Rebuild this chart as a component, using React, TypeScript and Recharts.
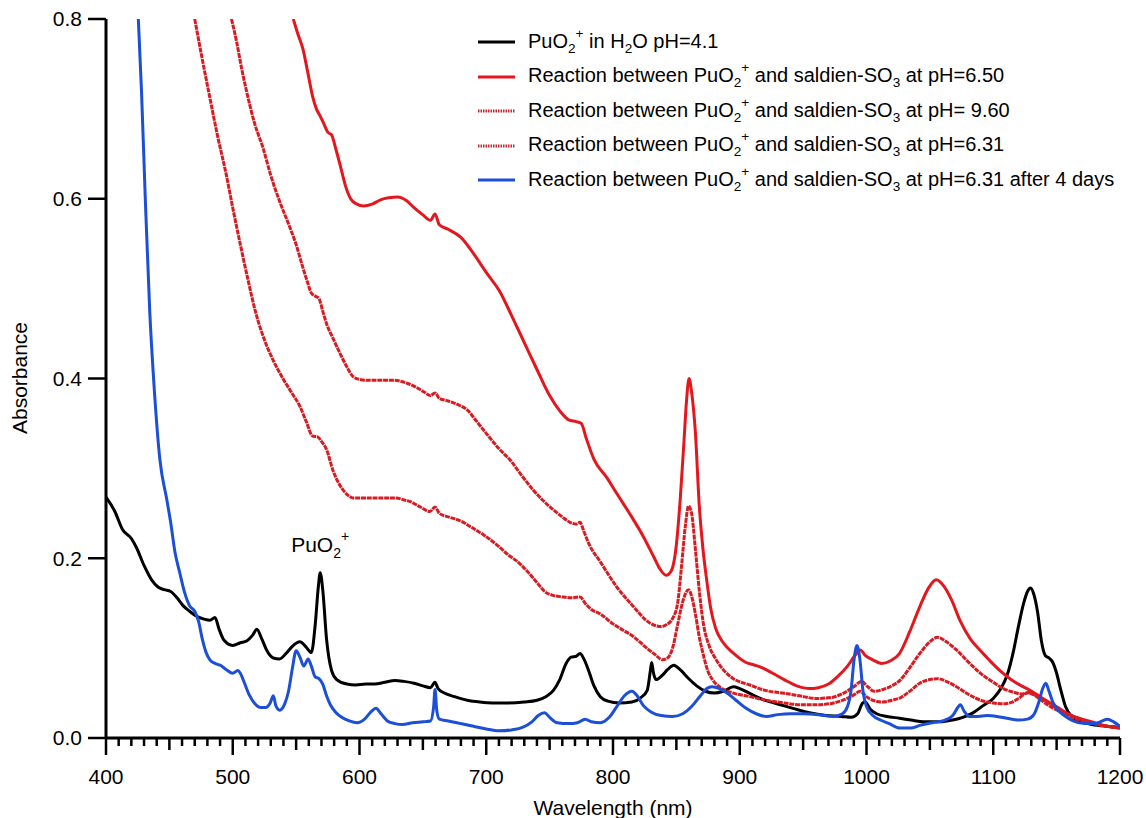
import React from 'react';
import { LineChart, Line, XAxis, YAxis, Legend, ReferenceDot } from 'recharts';

type Pt = [number, number];

// Wavelength (nm) / absorbance pairs for each spectrum
const puo2Water: Pt[] = [
  [400, 0.268], [407, 0.252], [413, 0.232], [420, 0.222], [424, 0.212], [430, 0.192], [436, 0.176],
  [441, 0.168], [446, 0.165], [451, 0.163], [456, 0.156], [461, 0.147], [466, 0.141], [472, 0.135],
  [478, 0.132], [482, 0.131], [486, 0.134], [489, 0.122], [493, 0.109], [500, 0.103], [506, 0.106],
  [511, 0.108], [516, 0.115], [519, 0.121], [523, 0.11], [527, 0.097], [532, 0.089], [537, 0.088],
  [542, 0.094], [547, 0.102], [553, 0.107], [558, 0.101], [562, 0.095], [565, 0.125], [567.5, 0.168],
  [569, 0.184], [571, 0.165], [574, 0.11], [578, 0.075], [582, 0.065], [590, 0.06], [597, 0.059],
  [605, 0.06], [612, 0.06], [620, 0.062], [628, 0.064], [635, 0.063], [643, 0.061], [650, 0.058],
  [656, 0.056], [659.5, 0.062], [662, 0.055], [667, 0.05], [675, 0.046], [685, 0.042], [695, 0.04],
  [705, 0.039], [717, 0.039], [730, 0.04], [740, 0.042], [747, 0.046], [753, 0.053], [758, 0.065],
  [763, 0.083], [767, 0.09], [771, 0.091], [774, 0.094], [777, 0.088], [781, 0.074], [785, 0.058],
  [790, 0.046], [796, 0.041], [805, 0.039], [815, 0.04], [822, 0.045], [827, 0.053], [829.5, 0.075],
  [830.5, 0.084], [832, 0.072], [834, 0.065], [839, 0.07], [843, 0.076], [848, 0.081], [853, 0.076],
  [859, 0.067], [866, 0.058], [873, 0.052], [880, 0.05], [887, 0.052], [895, 0.057], [900, 0.055],
  [906, 0.051], [913, 0.046], [922, 0.041], [932, 0.037], [942, 0.033], [955, 0.028], [968, 0.025],
  [980, 0.024], [988, 0.023], [993, 0.027], [997, 0.039], [999, 0.04], [1003, 0.032], [1008, 0.027],
  [1016, 0.024], [1026, 0.022], [1035, 0.02], [1045, 0.018], [1058, 0.018], [1068, 0.02], [1076, 0.023],
  [1084, 0.028], [1092, 0.036], [1100, 0.044], [1106, 0.055], [1111, 0.07], [1116, 0.097], [1120, 0.125],
  [1124, 0.15], [1127, 0.163], [1129.5, 0.167], [1132, 0.16], [1135, 0.14], [1138, 0.108], [1141, 0.092],
  [1144, 0.089], [1147, 0.084], [1150, 0.072], [1153, 0.055], [1157, 0.035], [1162, 0.024], [1168, 0.019],
  [1178, 0.015], [1190, 0.013], [1200, 0.012],
];

const saldienPh650: Pt[] = [
  [547.8, 0.8], [551, 0.785], [555.5, 0.766], [559, 0.742], [563, 0.714], [566, 0.7], [569, 0.692],
  [572, 0.683], [575, 0.674], [578, 0.671], [581, 0.657], [585, 0.636], [589, 0.614], [593, 0.6],
  [598, 0.594], [603, 0.592], [610, 0.594], [617, 0.599], [623, 0.601], [630, 0.602], [637, 0.598],
  [643, 0.59], [650, 0.582], [656, 0.576], [659.6, 0.583], [663, 0.571], [670, 0.566], [680, 0.557],
  [690, 0.539], [700, 0.518], [711, 0.496], [720, 0.47], [730, 0.44], [740, 0.41], [750, 0.381],
  [758, 0.364], [765, 0.354], [771, 0.352], [775, 0.35], [779, 0.333], [785, 0.31], [795, 0.29],
  [803, 0.272], [813, 0.25], [824, 0.224], [832, 0.202], [837, 0.188], [842, 0.181], [846, 0.186],
  [850, 0.215], [853, 0.265], [856, 0.33], [858, 0.375], [860, 0.4], [862, 0.385], [865, 0.34],
  [868, 0.26], [871, 0.21], [874, 0.175], [877, 0.145], [881, 0.122], [886, 0.108], [890, 0.101],
  [897, 0.092], [905, 0.084], [912, 0.081], [918, 0.078], [926, 0.072], [935, 0.065], [945, 0.058],
  [955, 0.055], [962, 0.056], [970, 0.06], [977, 0.068], [985, 0.08], [991, 0.092], [995, 0.098],
  [999, 0.092], [1005, 0.087], [1012, 0.083], [1019, 0.086], [1026, 0.094], [1034, 0.118], [1042, 0.146],
  [1049, 0.167], [1055, 0.176], [1061, 0.169], [1067, 0.154], [1074, 0.13], [1082, 0.11], [1090, 0.097],
  [1098, 0.085], [1106, 0.074], [1114, 0.065], [1121, 0.059], [1129, 0.053], [1137, 0.046], [1145, 0.039],
  [1152, 0.033], [1160, 0.026], [1170, 0.021], [1180, 0.017], [1190, 0.013], [1200, 0.011],
];

const saldienPh960: Pt[] = [
  [499, 0.8], [503, 0.775], [507, 0.745], [511, 0.719], [517, 0.685], [524, 0.656], [530, 0.626],
  [537, 0.597], [544, 0.572], [550, 0.549], [555, 0.525], [559, 0.507], [562, 0.495], [566, 0.491],
  [568, 0.489], [571, 0.475], [574, 0.461], [579, 0.445], [584.6, 0.428], [590, 0.413], [595, 0.402],
  [600, 0.399], [606, 0.398], [615, 0.398], [627, 0.398], [637, 0.395], [645, 0.39], [651, 0.385],
  [656, 0.381], [659.6, 0.384], [663, 0.378], [670, 0.375], [679, 0.37], [685, 0.365], [692, 0.353],
  [700, 0.339], [710, 0.322], [719, 0.309], [728, 0.292], [737, 0.276], [745, 0.264], [752, 0.255],
  [760, 0.246], [766, 0.24], [771, 0.238], [774, 0.24], [777, 0.23], [781, 0.216], [790, 0.196],
  [803, 0.168], [815, 0.148], [829, 0.128], [838, 0.124], [842, 0.126], [847, 0.133], [851, 0.15],
  [854, 0.19], [857, 0.235], [859.6, 0.258], [862, 0.25], [865, 0.21], [868, 0.165], [871, 0.13],
  [876, 0.102], [881, 0.088], [887, 0.076], [895, 0.066], [908, 0.059], [920, 0.053], [934, 0.05],
  [947, 0.047], [960, 0.044], [972, 0.045], [982, 0.05], [990, 0.057], [996, 0.063], [1001, 0.057],
  [1006, 0.052], [1013, 0.054], [1020, 0.058], [1027, 0.065], [1035, 0.08], [1042, 0.094], [1050, 0.107],
  [1056, 0.112], [1063, 0.107], [1071, 0.098], [1080, 0.085], [1090, 0.072], [1100, 0.062], [1108, 0.055],
  [1116, 0.051], [1122, 0.049], [1129, 0.051], [1134, 0.047], [1140, 0.042], [1148, 0.035], [1156, 0.029],
  [1165, 0.023], [1174, 0.018], [1186, 0.014], [1200, 0.011],
];

const saldienPh631: Pt[] = [
  [470, 0.8], [476, 0.755], [482, 0.712], [488, 0.67], [495, 0.626], [500, 0.59], [506, 0.549],
  [512, 0.51], [518, 0.474], [525, 0.443], [532, 0.42], [540, 0.399], [547, 0.383], [553, 0.369],
  [558, 0.352], [563, 0.336], [567, 0.335], [570, 0.33], [574, 0.321], [579, 0.298], [583, 0.285],
  [587, 0.276], [591, 0.27], [595, 0.267], [603, 0.267], [611, 0.267], [620, 0.267], [629, 0.267],
  [635, 0.265], [640, 0.263], [648, 0.257], [655.6, 0.252], [659.6, 0.257], [663, 0.25], [670, 0.246],
  [679, 0.242], [690, 0.233], [700, 0.224], [710, 0.213], [718, 0.203], [724, 0.197], [732, 0.186],
  [740, 0.173], [747, 0.162], [752, 0.159], [760, 0.157], [767, 0.156], [774, 0.157], [778, 0.15],
  [783, 0.143], [790, 0.138], [800, 0.127], [808, 0.12], [816, 0.113], [825, 0.102], [833, 0.093],
  [839, 0.087], [843, 0.089], [847, 0.1], [851, 0.126], [854, 0.146], [857, 0.16], [859.6, 0.165],
  [862, 0.158], [865, 0.138], [868, 0.113], [871, 0.094], [875, 0.074], [879, 0.064], [886, 0.055],
  [895, 0.05], [908, 0.046], [921, 0.042], [935, 0.039], [948, 0.037], [962, 0.037], [974, 0.039],
  [983, 0.043], [990, 0.048], [995, 0.052], [1000, 0.046], [1005, 0.042], [1013, 0.04], [1020, 0.042],
  [1027, 0.045], [1035, 0.053], [1042, 0.061], [1050, 0.065], [1056, 0.066], [1063, 0.063], [1071, 0.057],
  [1080, 0.049], [1090, 0.042], [1100, 0.039], [1108, 0.038], [1115, 0.04], [1120, 0.044], [1127, 0.05],
  [1132, 0.048], [1137, 0.043], [1145, 0.035], [1155, 0.028], [1164, 0.022], [1174, 0.018], [1186, 0.014],
  [1200, 0.011],
];

const saldienPh631Aged: Pt[] = [
  [425.5, 0.8], [428, 0.72], [431, 0.6], [434.5, 0.475], [438, 0.39], [442.5, 0.31], [448, 0.265],
  [451, 0.24], [454.5, 0.206], [458, 0.185], [462, 0.162], [466, 0.147], [470, 0.141], [473, 0.13],
  [476, 0.11], [479, 0.095], [482, 0.087], [486, 0.083], [490, 0.081], [495, 0.076], [500, 0.072],
  [504, 0.075], [506, 0.072], [509, 0.062], [513, 0.048], [517, 0.039], [522, 0.034], [526, 0.034],
  [529.5, 0.039], [532, 0.047], [534, 0.036], [537, 0.031], [541, 0.038], [544, 0.052], [547, 0.077],
  [550, 0.097], [553, 0.09], [556, 0.08], [559.5, 0.088], [562, 0.08], [565, 0.068], [568, 0.066],
  [571, 0.06], [574, 0.047], [577, 0.037], [581, 0.029], [586, 0.023], [592, 0.019], [598, 0.017],
  [604, 0.021], [609, 0.029], [613, 0.033], [617, 0.027], [622, 0.019], [628, 0.016], [634, 0.015],
  [642, 0.017], [650, 0.018], [656, 0.019], [658.5, 0.035], [659.6, 0.054], [661, 0.03], [663, 0.021],
  [670, 0.019], [680, 0.016], [690, 0.013], [700, 0.01], [710, 0.008], [720, 0.009], [729, 0.012],
  [736, 0.018], [741, 0.025], [746, 0.028], [750, 0.023], [756, 0.017], [765, 0.016], [772, 0.017],
  [778, 0.021], [783, 0.018], [790, 0.017], [797, 0.023], [803, 0.035], [809, 0.047], [815, 0.052],
  [819, 0.047], [824, 0.036], [830, 0.029], [838, 0.025], [847, 0.024], [855, 0.027], [862, 0.035],
  [869, 0.047], [874, 0.055], [878, 0.057], [884, 0.055], [890, 0.05], [897, 0.042], [905, 0.033],
  [913, 0.027], [921, 0.024], [930, 0.026], [940, 0.027], [950, 0.027], [962, 0.026], [974, 0.024],
  [981, 0.027], [985, 0.035], [988, 0.055], [990, 0.085], [992.5, 0.103], [995, 0.085], [997, 0.055],
  [1000, 0.035], [1005, 0.025], [1011, 0.02], [1018, 0.016], [1026, 0.011], [1035, 0.011], [1042, 0.014],
  [1052, 0.017], [1062, 0.02], [1068, 0.025], [1072, 0.034], [1074, 0.037], [1077, 0.03], [1081, 0.024],
  [1088, 0.024], [1095, 0.025], [1103, 0.024], [1111, 0.022], [1120, 0.02], [1127, 0.021], [1132, 0.026],
  [1136, 0.04], [1139, 0.055], [1141.5, 0.061], [1144, 0.052], [1147, 0.04], [1151, 0.031], [1156, 0.025],
  [1163, 0.019], [1172, 0.016], [1180, 0.016], [1186, 0.019], [1190, 0.021], [1195, 0.018], [1200, 0.013],
];

const majorWavelengthTicks = [400, 500, 600, 700, 800, 900, 1000, 1100, 1200];
const absorbanceTicks = [0, 0.2, 0.4, 0.6, 0.8];

// every 10 nm between the labelled ticks gets a small tick mark
const wavelengthTicks: number[] = [];
for (let v = majorWavelengthTicks[0]; v <= majorWavelengthTicks[majorWavelengthTicks.length - 1]; v += 10) {
  wavelengthTicks.push(v);
}

const FONT = '"Liberation Sans", Arial, Helvetica, sans-serif';

type Part = [string, '' | 'sub' | 'sup'];
const reactionPrefix: Part[] = [
  ['Reaction between PuO', ''], ['2', 'sub'], ['+', 'sup'], [' and saldien-SO', ''], ['3', 'sub'],
];

const seriesList = [
  { id: 'water', data: puo2Water, color: '#000000', dash: undefined as string | undefined,
    label: [['PuO', ''], ['2', 'sub'], ['+', 'sup'], [' in H', ''], ['2', 'sub'], ['O pH=4.1', '']] as Part[] },
  { id: 'ph650', data: saldienPh650, color: '#e3171d', dash: undefined,
    label: [...reactionPrefix, [' at pH=6.50', '']] as Part[] },
  { id: 'ph960', data: saldienPh960, color: '#d61d24', dash: '5 0.8',
    label: [...reactionPrefix, [' at pH= 9.60', '']] as Part[] },
  { id: 'ph631', data: saldienPh631, color: '#d61d24', dash: '5 0.8',
    label: [...reactionPrefix, [' at pH=6.31', '']] as Part[] },
  { id: 'ph631aged', data: saldienPh631Aged, color: '#1c4fd8', dash: undefined,
    label: [...reactionPrefix, [' at pH=6.31 after 4 days', '']] as Part[] },
];

const renderParts = (parts: Part[]) =>
  parts.map(([text, kind], i) => {
    if (kind === 'sub')
      return <span key={i} style={{ fontSize: '0.68em', position: 'relative', top: '0.38em' }}>{text}</span>;
    if (kind === 'sup')
      return <span key={i} style={{ fontSize: '0.68em', position: 'relative', top: '-0.75em' }}>{text}</span>;
    return <span key={i}>{text}</span>;
  });

const LegendBox = () => (
  <div style={{ fontFamily: FONT, fontSize: 20, color: '#000' }}>
    {seriesList.map((s) => (
      <div key={s.id} style={{ height: 34.5, display: 'flex', alignItems: 'center', whiteSpace: 'pre' }}>
        <svg width={50} height={6} style={{ flex: 'none' }}>
          <line x1={0} x2={37} y1={3} y2={3} stroke={s.dash ? '#c42a30' : s.color} strokeWidth={3}
            strokeDasharray={s.dash ? '1.5 1' : undefined} />
        </svg>
        <span style={{ lineHeight: '20px' }}>{renderParts(s.label)}</span>
      </div>
    ))}
  </div>
);

const XTick = (props: any) => {
  const { x, y, payload } = props;
  const v = payload.value as number;
  const major = v % 100 === 0;
  const len = major ? 17 : v % 50 === 0 ? 12 : 8;
  return (
    <g>
      <line x1={x} x2={x} y1={y} y2={y + len} stroke="#000" strokeWidth={2.5} />
      {major && (
        <text x={x} y={y + 46} textAnchor="middle" fontSize={21} fontFamily={FONT} fill="#000">
          {v}
        </text>
      )}
    </g>
  );
};

const PeakLabel = (props: any) => {
  const { cx, cy } = props;
  return (
    <text x={cx} y={cy} textAnchor="middle" fontSize={21} fontFamily={FONT} fill="#000">
      <tspan>PuO</tspan>
      <tspan fontSize={14} dy={6}>2</tspan>
      <tspan fontSize={14} dy={-17}>+</tspan>
    </text>
  );
};

export default function App() {
  return (
    <div style={{ position: 'absolute', left: 0, top: 0, width: 1146, height: 818, background: '#fff' }}>
      <LineChart width={1146} height={818} margin={{ top: 19, right: 26, bottom: 0, left: 0 }}>
        <XAxis
          type="number"
          dataKey="wl"
          domain={[400, 1200]}
          ticks={wavelengthTicks}
          interval={0}
          tickLine={false}
          tickSize={0}
          tickMargin={0}
          tick={(p: any) => <XTick {...p} />}
          axisLine={{ stroke: '#000', strokeWidth: 3 }}
          height={80}
          allowDataOverflow
          label={{
            content: () => (
              <text x={613} y={815} textAnchor="middle" fontSize={21} fontFamily={FONT} fill="#000">
                Wavelength (nm)
              </text>
            ),
          }}
        />
        <YAxis
          type="number"
          domain={[0, 0.8]}
          ticks={absorbanceTicks}
          interval={0}
          allowDataOverflow
          width={106}
          tickSize={18}
          tickMargin={6}
          tickLine={{ stroke: '#000', strokeWidth: 2.5 }}
          axisLine={{ stroke: '#000', strokeWidth: 3 }}
          tick={{ fill: '#000', fontSize: 21, fontFamily: FONT }}
          tickFormatter={(v: number) => v.toFixed(1)}
          label={{
            content: () => (
              <text x={27} y={378} transform="rotate(-90 27 378)" textAnchor="middle" fontSize={21}
                fontFamily={FONT} fill="#000">
                Absorbance
              </text>
            ),
          }}
        />
        {seriesList.map((s) => (
          <Line
            key={s.id}
            data={s.data.map(([wl, a]) => ({ wl, a }))}
            dataKey="a"
            type="monotone"
            stroke={s.color}
            strokeWidth={3}
            strokeDasharray={s.dash}
            dot={false}
            activeDot={false}
            isAnimationActive={false}
          />
        ))}
        <ReferenceDot x={569} y={0.207} r={0} shape={(p: any) => <PeakLabel {...p} />} />
        <Legend
          layout="vertical"
          align="center"
          verticalAlign="middle"
          content={() => <LegendBox />}
          wrapperStyle={{ left: 478, top: 25, width: 680, height: 180 }}
        />
      </LineChart>
    </div>
  );
}
